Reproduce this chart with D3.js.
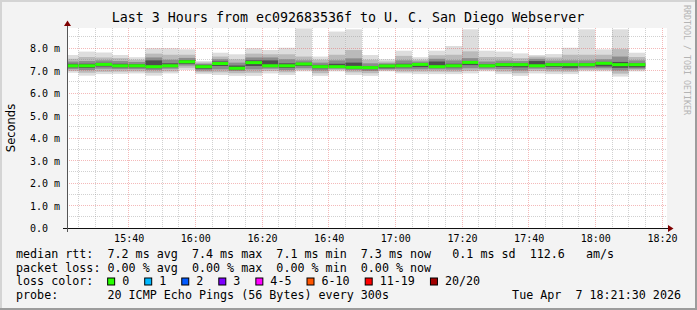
<!DOCTYPE html>
<html>
<head>
<meta charset="utf-8">
<script src="https://cdnjs.cloudflare.com/ajax/libs/d3/7.8.5/d3.min.js"></script>
<style>
html, body { margin: 0; padding: 0; background: #f3f3f3; }
svg { display: block; }
text { font-family: "DejaVu Sans Mono", monospace; fill: #000; }
</style>
</head>
<body>
<svg id="chart" width="697" height="310"></svg>
<script>
/* global d3 */
(function() {
    'use strict';

    // 5 minute slots (end time of each slot)
    var slotEnds = ['15:25', '15:30', '15:35', '15:40', '15:45', '15:50', '15:55', '16:00',
        '16:05', '16:10', '16:15', '16:20', '16:25', '16:30', '16:35', '16:40', '16:45',
        '16:50', '16:55', '17:00', '17:05', '17:10', '17:15', '17:20', '17:25', '17:30',
        '17:35', '17:40', '17:45', '17:50', '17:55', '18:00', '18:05', '18:10', '18:15'];

    // median rtt in ms
    var medianRtt = [7.21, 7.21, 7.27, 7.21, 7.21, 7.17, 7.21, 7.39, 7.17, 7.31, 7.10, 7.35,
        7.21, 7.21, 7.29, 7.17, 7.17, 7.14, 7.13, 7.20, 7.21, 7.27, 7.17, 7.21, 7.36, 7.21,
        7.26, 7.26, 7.21, 7.26, 7.26, 7.26, 7.32, 7.26, 7.26];

    // smoke, ms: [min, lo2, lo3, lo4, hi4, hi3, hi2, max]
    var smokeBands = [
        [6.90, 6.98, 7.06, 7.14, 7.30, 7.40, 7.52, 7.69],
        [6.77, 6.90, 7.02, 7.12, 7.30, 7.42, 7.60, 7.84],
        [6.84, 6.94, 7.08, 7.18, 7.34, 7.45, 7.58, 7.80],
        [6.85, 6.95, 7.06, 7.14, 7.30, 7.42, 7.55, 7.69],
        [6.87, 6.96, 7.06, 7.14, 7.28, 7.38, 7.48, 7.59],
        [6.77, 6.90, 7.02, 7.10, 7.45, 7.58, 7.75, 7.99],
        [6.87, 6.96, 7.08, 7.15, 7.32, 7.48, 7.70, 7.99],
        [7.02, 7.12, 7.22, 7.30, 7.46, 7.56, 7.70, 7.94],
        [6.84, 6.92, 7.00, 7.08, 7.25, 7.30, 7.36, 7.42],
        [6.80, 6.92, 7.05, 7.20, 7.40, 7.50, 7.62, 7.79],
        [6.76, 6.88, 6.98, 7.05, 7.22, 7.35, 7.50, 7.72],
        [6.76, 6.90, 7.05, 7.20, 7.45, 7.58, 7.75, 7.99],
        [6.87, 6.98, 7.08, 7.15, 7.45, 7.58, 7.72, 7.91],
        [6.80, 6.92, 7.02, 7.12, 7.32, 7.50, 7.72, 8.01],
        [6.96, 7.02, 7.10, 7.20, 7.34, 7.45, 7.62, 8.87],
        [6.76, 6.88, 7.00, 7.10, 7.25, 7.35, 7.48, 7.62],
        [6.96, 7.02, 7.08, 7.14, 7.30, 7.45, 7.70, 8.73],
        [6.80, 6.92, 7.02, 7.10, 7.35, 7.54, 7.91, 8.83],
        [6.76, 6.88, 6.98, 7.06, 7.20, 7.32, 7.48, 7.69],
        [6.96, 7.00, 7.05, 7.10, 7.26, 7.32, 7.40, 7.50],
        [6.87, 6.95, 7.05, 7.14, 7.30, 7.45, 7.65, 7.88],
        [6.84, 6.95, 7.05, 7.15, 7.32, 7.40, 7.48, 7.59],
        [6.84, 6.95, 7.05, 7.12, 7.40, 7.52, 7.68, 7.88],
        [6.84, 6.94, 7.04, 7.14, 7.30, 7.45, 7.70, 8.09],
        [6.87, 6.98, 7.10, 7.24, 7.42, 7.55, 7.85, 8.83],
        [6.96, 7.02, 7.08, 7.15, 7.28, 7.40, 7.60, 7.88],
        [6.84, 6.95, 7.06, 7.16, 7.32, 7.44, 7.60, 7.84],
        [6.76, 6.88, 7.00, 7.14, 7.32, 7.42, 7.55, 7.76],
        [6.87, 6.98, 7.08, 7.15, 7.42, 7.52, 7.62, 7.69],
        [6.84, 6.95, 7.05, 7.16, 7.32, 7.44, 7.58, 7.73],
        [6.84, 6.94, 7.04, 7.12, 7.30, 7.45, 7.70, 8.01],
        [6.96, 7.02, 7.10, 7.18, 7.32, 7.45, 7.70, 8.83],
        [6.96, 7.02, 7.10, 7.18, 7.38, 7.50, 7.70, 7.94],
        [6.73, 6.86, 7.00, 7.12, 7.38, 7.62, 7.95, 8.83],
        [6.96, 7.02, 7.08, 7.14, 7.32, 7.45, 7.60, 7.79]
    ];

    var yTicks = [0, 1, 2, 3, 4, 5, 6, 7, 8];
    var lossLabels = ['0', '1', '2', '3', '4-5', '6-10', '11-19', '20/20'];
    var lossColors = ['#26ff00', '#00b8ff', '#0059ff', '#7e00ff', '#ff00ff', '#ff5500', '#ff0000', '#a10000'];
    var bandColors = ['#dddddd', '#bababa', '#8c8c8c', '#4e4e4e'];

    var day = function(hm, s) {
        var p = hm.split(':');
        return new Date(2026, 3, 7, +p[0], +p[1], s || 0);
    };
    // keep runs of spaces in monospace legend text
    var pre = function(s) { return s.replace(/ /g, '\u00a0'); };
    var tStart = day('15:21', 30), tEnd = day('18:21', 30);

    var svg = d3.select('#chart');
    var x = d3.scaleTime().domain([tStart, tEnd]).range([67, 667]);
    var y = d3.scaleLinear().domain([0, 200 / 22.5]).range([228, 28]);

    // frame
    svg.append('rect').attr('width', 697).attr('height', 310).attr('fill', '#f3f3f3');
    svg.append('path').attr('d', 'M0,0H697V2H2V310H0Z').attr('fill', '#d4d4d4');
    svg.append('path').attr('d', 'M697,0V310H0V308H695V0Z').attr('fill', '#9c9c9c');

    // canvas
    svg.append('rect').attr('x', 67).attr('y', 28).attr('width', 600).attr('height', 200).attr('fill', '#fff');

    // smoke
    var cols = svg.append('g').attr('class', 'smoke').selectAll('g')
        .data(slotEnds.map(function(s, i) {
            var t1 = day(s);
            return {x0: Math.max(x(d3.timeMinute.offset(t1, -5)), 67), x1: x(t1), v: smokeBands[i], med: medianRtt[i]};
        }))
        .enter().append('g');
    bandColors.forEach(function(c, k) {
        cols.append('rect')
            .attr('x', function(d) { return d.x0; })
            .attr('width', function(d) { return d.x1 - d.x0; })
            .attr('y', function(d) { return y(d.v[7 - k]); })
            .attr('height', function(d) { return y(d.v[k]) - y(d.v[7 - k]); })
            .attr('fill', c);
    });
    cols.append('rect')
        .attr('x', function(d) { return d.x0; })
        .attr('width', function(d) { return d.x1 - d.x0; })
        .attr('y', function(d) { return y(d.med) - 1.5; })
        .attr('height', 3)
        .attr('fill', lossColors[0]);

    // grid (drawn over the smoke like rrdtool does)
    var grid = svg.append('g').attr('stroke-dasharray', '1,1').attr('stroke-width', 1)
        .attr('fill', 'none').attr('shape-rendering', 'crispEdges');
    var MINOR = 'rgba(140,140,140,0.4)', MAJOR = 'rgba(225,60,60,0.36)';
    d3.timeMinute.every(5).range(tStart, tEnd).forEach(function(t) {
        var xx = Math.floor(x(t)) + 0.5;
        grid.append('line').attr('x1', xx).attr('x2', xx).attr('y1', 28).attr('y2', 228)
            .attr('stroke', t.getMinutes() % 20 === 0 ? MAJOR : MINOR);
    });
    d3.range(1, 18).forEach(function(h) {
        var yy = Math.floor(y(h / 2)) + 0.5;
        grid.append('line').attr('x1', 67).attr('x2', 667).attr('y1', yy).attr('y2', yy)
            .attr('stroke', h % 2 === 0 ? MAJOR : MINOR);
    });

    // axes labels
    var xAxis = svg.append('g').attr('transform', 'translate(0,228)')
        .call(d3.axisBottom(x).ticks(d3.timeMinute.every(20)).tickFormat(d3.timeFormat('%H:%M')).tickSize(0));
    xAxis.select('.domain').remove();
    xAxis.selectAll('text').attr('y', 14).attr('dy', 0)
        .style('font-family', '"DejaVu Sans Mono", monospace').style('font-size', '10px').attr('fill', '#000');

    var yAxis = svg.append('g').attr('transform', 'translate(67,0)')
        .call(d3.axisLeft(y).tickValues(yTicks).tickSize(0)
            .tickFormat(function(d) { return d === 0 ? '0.0' : d3.format('.1f')(d) + ' m'; }));
    yAxis.select('.domain').remove();
    yAxis.selectAll('text').attr('x', -37).attr('dy', '0.36em').attr('text-anchor', 'start')
        .style('font-family', '"DejaVu Sans Mono", monospace').style('font-size', '10px').attr('fill', '#000');

    // axis lines + arrows
    svg.append('line').attr('x1', 63).attr('x2', 669).attr('y1', 228.5).attr('y2', 228.5).attr('stroke', '#111');
    svg.append('line').attr('x1', 67.5).attr('x2', 67.5).attr('y1', 232).attr('y2', 25).attr('stroke', '#555');
    svg.append('path').attr('d', 'M668,225L673.5,228.5L668,232Z').attr('fill', '#7f0000');
    svg.append('path').attr('d', 'M64,26L67.5,20.5L71,26Z').attr('fill', '#7f0000');

    // title and side texts
    svg.append('text').attr('x', 348).attr('y', 22).attr('text-anchor', 'middle')
        .style('font-size', '13.3px')
        .text('Last 3 Hours from ec092683536f to U. C. San Diego Webserver');
    svg.append('text').attr('transform', 'translate(15,128) rotate(-90)').attr('text-anchor', 'middle')
        .style('font-family', '"DejaVu Sans", sans-serif').style('font-size', '11.5px')
        .text('Seconds');
    svg.append('text').attr('transform', 'translate(684,5) rotate(90)')
        .style('font-size', '8.3px').style('fill', '#b4b4b4')
        .text('RRDTOOL / TOBI OETIKER');

    // legend
    var cw = 7.05, lx = 16;
    var leg = svg.append('g').style('font-size', '11.7px');
    leg.append('text').attr('x', lx).attr('y', 258)
        .text(pre('median rtt:  7.2 ms avg  7.4 ms max  7.1 ms min  7.3 ms now   0.1 ms sd  112.6   am/s'));
    leg.append('text').attr('x', lx).attr('y', 271.5)
        .text(pre('packet loss: 0.00 % avg  0.00 % max  0.00 % min  0.00 % now'));
    leg.append('text').attr('x', lx).attr('y', 285).text(pre('loss color:'));
    var bx = lx + 13 * cw - 0.5;
    lossLabels.forEach(function(l, i) {
        leg.append('rect').attr('x', bx + 0.5).attr('y', 278).attr('width', 7).attr('height', 7)
            .attr('fill', lossColors[i]).attr('stroke', '#000').attr('stroke-width', 1);
        leg.append('text').attr('x', bx + 15).attr('y', 285).text(l);
        bx = bx + 15 + l.length * cw + 15;
    });
    leg.append('text').attr('x', lx).attr('y', 298.5)
        .text(pre('probe:       20 ICMP Echo Pings (56 Bytes) every 300s'));
    leg.append('text').attr('x', 681).attr('y', 298.5).attr('text-anchor', 'end')
        .text(pre('Tue Apr  7 18:21:30 2026'));
}());
</script>
</body>
</html>
